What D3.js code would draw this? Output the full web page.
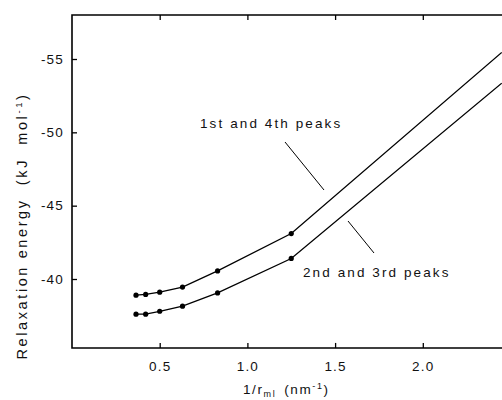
<!DOCTYPE html>
<html>
<head>
<meta charset="utf-8">
<script src="https://cdn.jsdelivr.net/npm/d3@7"></script>
<style>
  body { margin: 0; background: #fff; }
  text { font-family: "Liberation Sans", Arial, sans-serif; fill: #111; white-space: pre; }
</style>
</head>
<body>
<svg id="chart" width="502" height="400"></svg>
<script>
// values
var invR = [0.365, 0.42, 0.50, 0.63, 0.83, 1.25];            // 1/r_ml (nm^-1)
var peaks14 = [-38.9, -38.95, -39.1, -39.45, -40.55, -43.1]; // 1st and 4th peaks
var peaks23 = [-37.6, -37.6, -37.8, -38.15, -39.05, -41.4];  // 2nd and 3rd peaks
var endX = 2.45;          // both lines run off the right edge here
var end14 = -55.45;
var end23 = -53.35;

var xTicks = [0.5, 1.0, 1.5, 2.0];
var yTicks = [-40, -45, -50, -55];

var svg = d3.select('#chart');

var x = d3.scaleLinear().domain([0, 2.5]).range([72, 72 + 2.5 * 175.4]);
var y = d3.scaleLinear().domain([-40, -55]).range([279, 59]);
var yBottom = -35.3, yTop = -58.0;

// spines
svg.append('path')
    .attr('d', 'M' + x(2.5) + ',' + y(yTop) + 'H' + x(0) + 'V' + y(yBottom) + 'H' + x(2.5))
    .attr('fill', 'none').attr('stroke', '#000').attr('stroke-width', 1.6);

// bottom axis, ticks pointing inward
var xAxis = svg.append('g')
    .attr('transform', 'translate(0,' + y(yBottom) + ')')
    .call(d3.axisBottom(x).tickValues(xTicks).tickFormat(d3.format('.1f'))
        .tickSizeInner(-5).tickSizeOuter(0).tickPadding(13));
xAxis.select('.domain').remove();

// top ticks
svg.append('g')
    .attr('transform', 'translate(0,' + y(yTop) + ')')
    .call(d3.axisTop(x).tickValues(xTicks).tickFormat('').tickSizeInner(-5).tickSizeOuter(0))
    .select('.domain').remove();

var yAxis = svg.append('g')
    .attr('transform', 'translate(' + x(0) + ',0)')
    .call(d3.axisLeft(y).tickValues(yTicks).tickFormat(function (d) { return String(d); })
        .tickSizeInner(-5).tickSizeOuter(0).tickPadding(8));
yAxis.select('.domain').remove();

svg.selectAll('.tick line').attr('stroke', '#000').attr('stroke-width', 1.3);
svg.selectAll('.tick text')
    .style('font-family', '"Liberation Sans", Arial, sans-serif')
    .style('font-size', '13.5px').style('letter-spacing', '1.2px').attr('fill', '#111');

// data lines
var line = d3.line().x(function (d) { return x(d[0]); }).y(function (d) { return y(d[1]); });

var series = [
    { vals: peaks14, end: end14 },
    { vals: peaks23, end: end23 }
];

series.forEach(function (s) {
    var pts = invR.map(function (v, i) { return [v, s.vals[i]]; });
    svg.append('path')
        .datum(pts.concat([[endX, s.end]]))
        .attr('d', line)
        .attr('fill', 'none').attr('stroke', '#000').attr('stroke-width', 1.3);
    svg.selectAll(null)
        .data(pts)
        .enter().append('circle')
        .attr('cx', function (d) { return x(d[0]); })
        .attr('cy', function (d) { return y(d[1]); })
        .attr('r', 2.6)
        .attr('fill', '#000');
});

// annotations
svg.append('text').attr('x', 200).attr('y', 128)
    .style('font-size', '13.5px').style('letter-spacing', '2.1px')
    .text('1st and 4th peaks');
svg.append('line').attr('x1', 285).attr('y1', 142).attr('x2', 324).attr('y2', 190)
    .attr('stroke', '#000').attr('stroke-width', 1);

svg.append('text').attr('x', 303).attr('y', 277)
    .style('font-size', '13.5px').style('letter-spacing', '2.1px')
    .text('2nd and 3rd peaks');
svg.append('line').attr('x1', 348).attr('y1', 221).attr('x2', 374).attr('y2', 253)
    .attr('stroke', '#000').attr('stroke-width', 1);

// axis titles
var xt = svg.append('text').attr('x', 243).attr('y', 394)
    .style('font-size', '13.5px').style('letter-spacing', '1.6px');
xt.append('tspan').text('1/r');
xt.append('tspan').attr('dy', 3).style('font-size', '9px').text('ml');
xt.append('tspan').attr('dy', -3).attr('dx', 8).text('(nm');
xt.append('tspan').attr('dy', -5).style('font-size', '9px').text('-1');
xt.append('tspan').attr('dy', 5).text(')');

var yt = svg.append('text')
    .attr('transform', 'translate(27,226) rotate(-90)')
    .attr('text-anchor', 'middle')
    .style('font-size', '14.5px').style('letter-spacing', '2.6px');
yt.append('tspan').text('Relaxation energy  (kJ  mol');
yt.append('tspan').attr('dy', -5).style('font-size', '9.5px').text('-1');
yt.append('tspan').attr('dy', 5).text(')');
</script>
</body>
</html>
